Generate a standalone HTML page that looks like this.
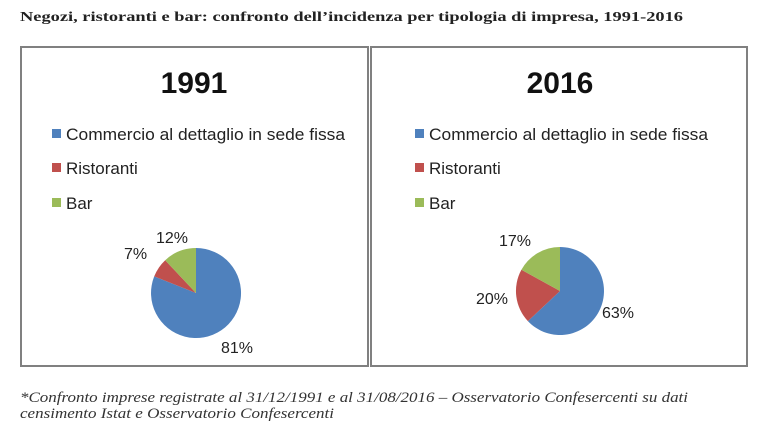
<!DOCTYPE html>
<html><head><meta charset="utf-8"><style>
body{margin:0;background:#fff;width:766px;height:444px;overflow:hidden;position:relative}
</style></head><body>
<svg width="766" height="444" style="position:absolute;left:0;top:0" font-family="Liberation Sans, sans-serif">
<text x="20" y="21" font-family="Liberation Serif, serif" font-weight="bold" font-size="14" fill="#222" textLength="663" lengthAdjust="spacingAndGlyphs">Negozi, ristoranti e bar: confronto dell’incidenza per tipologia di impresa, 1991-2016</text>
<rect x="21" y="47" width="347" height="319" fill="none" stroke="#808080" stroke-width="2"/>
<rect x="371" y="47" width="376" height="319" fill="none" stroke="#808080" stroke-width="2"/>
<text x="194" y="93" font-size="30" font-weight="bold" text-anchor="middle" fill="#111">1991</text>
<text x="560" y="93" font-size="30" font-weight="bold" text-anchor="middle" fill="#111">2016</text>
<g font-size="17" fill="#222">
<rect x="52" y="129" width="9" height="9" fill="#4F81BD"/><text x="66" y="140" textLength="279" lengthAdjust="spacingAndGlyphs">Commercio al dettaglio in sede fissa</text>
<rect x="52" y="163" width="9" height="9" fill="#C0504D"/><text x="66" y="174">Ristoranti</text>
<rect x="52" y="198" width="9" height="9" fill="#9BBB59"/><text x="66" y="209">Bar</text>
<rect x="415" y="129" width="9" height="9" fill="#4F81BD"/><text x="429" y="140" textLength="279" lengthAdjust="spacingAndGlyphs">Commercio al dettaglio in sede fissa</text>
<rect x="415" y="163" width="9" height="9" fill="#C0504D"/><text x="429" y="174">Ristoranti</text>
<rect x="415" y="198" width="9" height="9" fill="#9BBB59"/><text x="429" y="209">Bar</text>
</g>
<path d="M196 293 L196 248 A45 45 0 1 1 154.2 276.4 Z" fill="#4F81BD"/>
<path d="M196 293 L154.2 276.4 A45 45 0 0 1 165.2 260.2 Z" fill="#C0504D"/>
<path d="M196 293 L165.2 260.2 A45 45 0 0 1 196 248 Z" fill="#9BBB59"/>
<path d="M560 291 L560 247 A44 44 0 1 1 527.9 321.1 Z" fill="#4F81BD"/>
<path d="M560 291 L527.9 321.1 A44 44 0 0 1 521.4 269.8 Z" fill="#C0504D"/>
<path d="M560 291 L521.4 269.8 A44 44 0 0 1 560 247 Z" fill="#9BBB59"/>
<g font-size="16" fill="#222">
<text x="156" y="243">12%</text><text x="124" y="259">7%</text><text x="221" y="353">81%</text>
<text x="499" y="246">17%</text><text x="476" y="304">20%</text><text x="602" y="318">63%</text>
</g>
<g font-family="Liberation Serif, serif" font-style="italic" font-size="15" fill="#333">
<text x="20" y="402" textLength="668" lengthAdjust="spacingAndGlyphs">*Confronto imprese registrate al 31/12/1991 e al 31/08/2016 – Osservatorio Confesercenti su dati</text>
<text x="20" y="418" textLength="314" lengthAdjust="spacingAndGlyphs">censimento Istat e Osservatorio Confesercenti</text>
</g>
</svg>
</body></html>
